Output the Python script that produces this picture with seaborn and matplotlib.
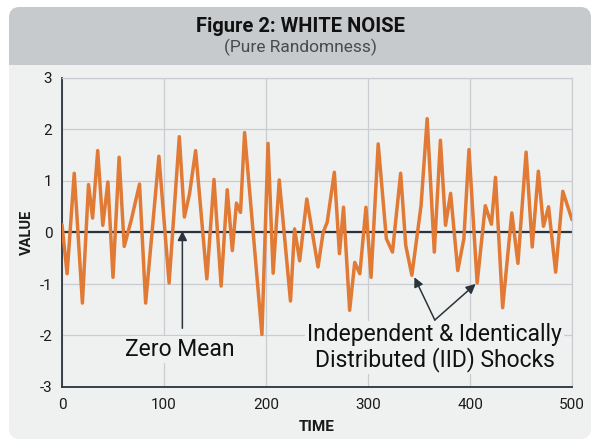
import matplotlib
matplotlib.use("Agg")
import matplotlib.pyplot as plt
from matplotlib.patches import FancyBboxPatch, Rectangle
import seaborn as sns
import pandas as pd

# ---- data ----
time = [0, 5, 12, 20, 26, 30, 35, 40, 45, 50, 56, 61, 68, 76, 82, 95, 105, 115,
        120, 125, 131, 142, 149, 156, 162, 167, 171, 175, 179, 196, 202, 207, 213,
        224, 228, 233, 240, 251, 256, 260, 267, 272, 276, 282, 287, 292, 298, 303,
        310, 318, 324, 332, 337, 343, 352, 358, 365, 371, 376, 381, 388, 394, 399,
        407, 415, 421, 425, 432, 441, 447, 455, 461, 467, 472, 477, 484, 491, 500]
value = [0.15, -0.80, 1.15, -1.37, 0.93, 0.28, 1.59, 0.14, 0.98, -0.87, 1.46, -0.27,
         0.25, 0.94, -1.37, 1.48, -0.98, 1.86, 0.30, 0.75, 1.59, -0.90, 1.03, -1.04,
         0.83, -0.35, 0.57, 0.39, 1.94, -1.98, 1.73, -0.79, 1.02, -1.33, 0.07, -0.55,
         0.65, -0.67, 0.00, 0.20, 1.17, -0.41, 0.49, -1.51, -0.58, -0.80, 0.49, -0.87,
         1.72, -0.12, -0.38, 1.15, -0.25, -0.83, 0.52, 2.21, -0.38, 1.79, 0.14, 0.76,
         -0.74, -0.12, 1.61, -0.98, 0.52, 0.16, 1.07, -1.46, 0.38, -0.60, 1.56, -0.28,
         1.19, 0.12, 0.50, -0.77, 0.80, 0.25]
x_ticks = [0, 100, 200, 300, 400, 500]
y_ticks = [-3, -2, -1, 0, 1, 2, 3]
title = "Figure 2: WHITE NOISE"
subtitle = "(Pure Randomness)"
xlabel = "TIME"
ylabel = "VALUE"
note_mean = "Zero Mean"
note_iid = "Independent & Identically\nDistributed (IID) Shocks"

df = pd.DataFrame({"time": time, "value": value})

sns.set_theme(style="whitegrid")
plt.rcParams["font.family"] = ["Roboto", "DejaVu Sans"]
plt.rcParams["axes.unicode_minus"] = False

BODY = "#eff0f0"
HEADER = "#c7cacd"
DARK = "#2b333c"
ORANGE = "#e07a35"
GRID = "#c9cdd2"

W, H = 600, 448
fig = plt.figure(figsize=(6, 4.48), dpi=100, facecolor="white")

def fx(px):
    return px / W

def fy(py):
    return 1 - py / H

# panel
panel = FancyBboxPatch((fx(9), fy(439)), fx(591) - fx(9), fy(7) - fy(439),
                       boxstyle="round,pad=0,rounding_size=0.018",
                       transform=fig.transFigure, facecolor=BODY, edgecolor="none",
                       mutation_aspect=W / H, zorder=-10)
fig.patches.append(panel)
header = FancyBboxPatch((fx(9), fy(65)), fx(591) - fx(9), fy(7) - fy(65),
                        boxstyle="round,pad=0,rounding_size=0.018",
                        transform=fig.transFigure, facecolor=HEADER, edgecolor="none",
                        mutation_aspect=W / H, zorder=-9)
fig.patches.append(header)
header_fill = Rectangle((fx(9), fy(65)), fx(591) - fx(9), fy(45) - fy(65),
                        transform=fig.transFigure, facecolor=HEADER, edgecolor="none",
                        zorder=-9)
fig.patches.append(header_fill)

fig.text(0.5, fy(27), title, ha="center", va="center", fontsize=14.5,
         fontweight="bold", color="#111111")
fig.text(0.5, fy(47), subtitle, ha="center", va="center", fontsize=12.5,
         color="#4a4a4a")

ax = fig.add_axes([fx(62), fy(387), fx(572) - fx(62), fy(78) - fy(387)])
ax.set_facecolor(BODY)

sns.lineplot(data=df, x="time", y="value", ax=ax, color=ORANGE, linewidth=2.5,
             zorder=3)
ax.axhline(0, color=DARK, linewidth=1.6, zorder=2)

ax.set_xlim(0, 500)
ax.set_ylim(-3, 3)
ax.set_xticks(x_ticks)
ax.set_yticks(y_ticks)
ax.grid(True, color=GRID, linewidth=0.9)
ax.tick_params(axis="both", length=0, labelsize=11, colors="#1a1a1a")
ax.tick_params(axis="x", pad=8)
ax.tick_params(axis="y", pad=7)
ax.set_xlabel(xlabel, fontsize=11, fontweight="bold", color="#1a1a1a", labelpad=6)
ax.set_ylabel(ylabel, fontsize=10.5, fontweight="bold", color="#1a1a1a", labelpad=4)

for s in ["left", "bottom"]:
    ax.spines[s].set_color(DARK)
    ax.spines[s].set_linewidth(1.3)
for s in ["top", "right"]:
    ax.spines[s].set_color(GRID)
    ax.spines[s].set_linewidth(0.9)

# annotations
arrow_kw = dict(arrowstyle="-|>", color=DARK, lw=1.1, mutation_scale=14,
                shrinkA=0, shrinkB=0)
ax.text(115.5, -2.27, note_mean, ha="center", va="center", fontsize=16.5,
        color="#111111", zorder=5,
        bbox=dict(facecolor=BODY, edgecolor="none", pad=1.5))
ax.annotate("", xy=(118, 0.03), xytext=(118, -1.86), arrowprops=arrow_kw, zorder=4)

ax.text(365.5, -2.23, note_iid, ha="center", va="center", fontsize=16.5,
        color="#111111", linespacing=1.08, zorder=5,
        bbox=dict(facecolor=BODY, edgecolor="none", pad=1.5))
ax.annotate("", xy=(345.5, -0.87), xytext=(365.5, -1.70), arrowprops=arrow_kw, zorder=4)
ax.annotate("", xy=(405.5, -1.0), xytext=(365.5, -1.70), arrowprops=arrow_kw, zorder=4)

fig.savefig("out.png", dpi=100, facecolor="white")
